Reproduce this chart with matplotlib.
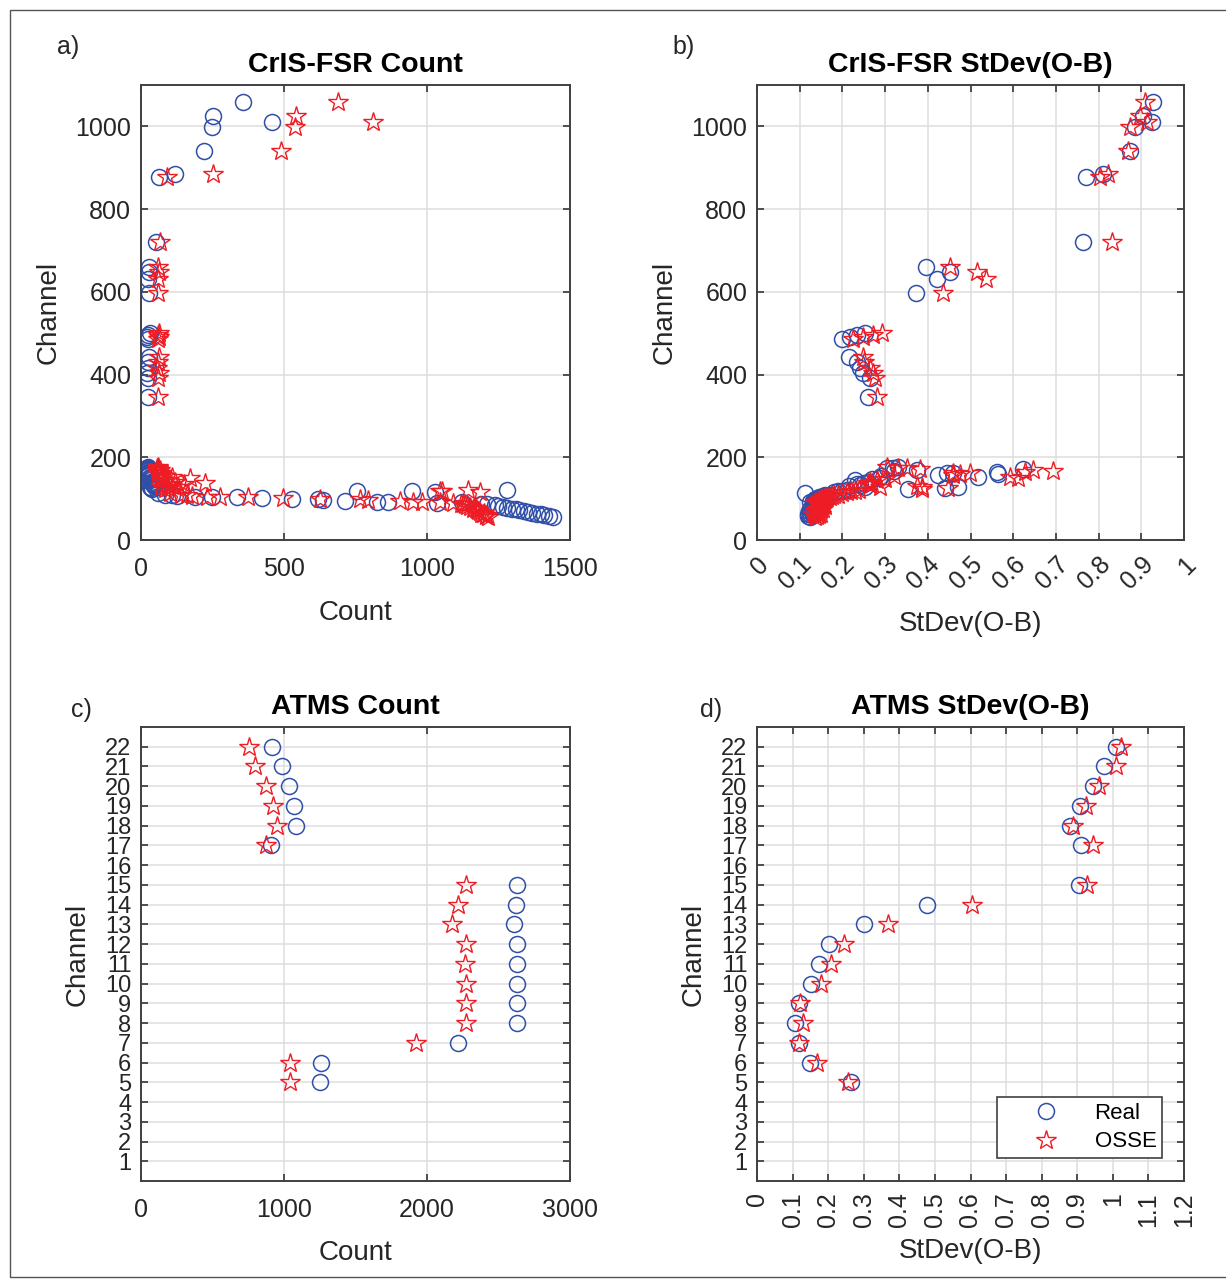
import numpy as np
import matplotlib.pyplot as plt
from matplotlib.patches import Rectangle
from matplotlib.transforms import ScaledTranslation

plt.rcParams['font.family'] = ['Liberation Sans', 'DejaVu Sans']

# CrIS-FSR channel statistics (Real vs OSSE)
cris_ch = [56, 58, 60, 62, 64, 66, 68, 70, 72, 74, 76, 78, 80, 82, 84, 86, 88,
           90, 91, 92, 93, 94, 96, 98, 100, 101, 103, 104, 105, 106, 108, 110,
           113, 116, 118, 119, 120,
           123, 125, 127, 129, 131, 133, 136, 138, 141, 144, 147, 150, 152,
           154, 157, 159, 161, 163, 165, 167, 169, 171, 173, 175, 177,
           345, 391, 403, 415, 430, 442, 486, 490, 495, 500,
           597, 630, 647, 660, 720,
           877, 884, 940, 998, 1010, 1024, 1058]
cris_cnt_real = [1440, 1425, 1410, 1398, 1385, 1368, 1352, 1340, 1322, 1310, 1296, 1281, 1265, 1250, 1238, 1209, 1190,
                 1035, 1122, 864, 825, 713, 635, 619, 527, 422, 335, 248, 189, 126, 84, 110,
                 60, 1028, 947, 755, 1279,
                 40, 35, 30, 55, 45, 50, 42, 38, 35, 30, 28, 30, 32,
                 26, 25, 24, 28, 25, 24, 22, 26, 24, 22, 25, 23,
                 24, 26, 22, 25, 24, 28, 24, 22, 26, 30,
                 28, 26, 28, 27, 52,
                 63, 120, 220, 248, 458, 252, 357]
cris_cnt_osse = [1212, 1205, 1208, 1196, 1190, 1198, 1185, 1180, 1176, 1170, 1162, 1165, 1150, 1140, 1132, 1125, 1118,
                 1091, 1045, 983, 951, 906, 794, 766, 626, 497, 374, 276, 230, 180, 140, 160,
                 100, 1185, 1045, 1052, 1143,
                 85, 95, 70, 130, 110, 100, 150, 224, 120, 90, 70, 171, 110,
                 80, 75, 60, 70, 65, 60, 55, 65, 60, 55, 60, 58,
                 60, 58, 62, 57, 60, 62, 58, 62, 60, 64,
                 60, 58, 62, 58, 66,
                 91, 252, 490, 539, 811, 542, 689]
cris_sd_real = [0.125, 0.120, 0.130, 0.125, 0.120, 0.130, 0.128, 0.122, 0.130, 0.135, 0.125, 0.130, 0.140, 0.135, 0.130, 0.140, 0.135,
                0.130, 0.125, 0.130, 0.135, 0.130, 0.140, 0.135, 0.140, 0.145, 0.150, 0.145, 0.150, 0.155, 0.160, 0.170,
                0.112, 0.180, 0.190, 0.200, 0.210,
                0.353, 0.440, 0.471, 0.253, 0.215, 0.241, 0.235, 0.250, 0.260, 0.229, 0.270, 0.285, 0.518,
                0.290, 0.424, 0.565, 0.445, 0.460, 0.562, 0.320, 0.374, 0.623, 0.304, 0.319, 0.330,
                0.260, 0.265, 0.248, 0.241, 0.234, 0.216, 0.200, 0.218, 0.235, 0.253,
                0.372, 0.421, 0.452, 0.396, 0.763,
                0.770, 0.811, 0.874, 0.885, 0.925, 0.904, 0.927]
cris_sd_osse = [0.135, 0.140, 0.145, 0.130, 0.150, 0.140, 0.145, 0.135, 0.150, 0.140, 0.155, 0.145, 0.150, 0.160, 0.145, 0.155, 0.150,
                0.140, 0.135, 0.145, 0.140, 0.150, 0.145, 0.155, 0.150, 0.160, 0.165, 0.170, 0.160, 0.175, 0.180, 0.190,
                0.200, 0.210, 0.220, 0.230, 0.240,
                0.386, 0.447, 0.386, 0.288, 0.374, 0.265, 0.270, 0.260, 0.265, 0.280, 0.300, 0.611, 0.592,
                0.320, 0.460, 0.475, 0.499, 0.460, 0.627, 0.694, 0.646, 0.382, 0.330, 0.351, 0.304,
                0.281, 0.276, 0.272, 0.265, 0.250, 0.248, 0.225, 0.248, 0.272, 0.293,
                0.436, 0.536, 0.515, 0.452, 0.831,
                0.803, 0.822, 0.869, 0.874, 0.913, 0.897, 0.909]

# ATMS channel statistics
atms_ch = [5, 6, 7, 8, 9, 10, 11, 12, 13, 14, 15, 17, 18, 19, 20, 21, 22]
atms_cnt_real = [1254, 1259, 2219, 2629, 2629, 2629, 2629, 2629, 2611, 2622, 2629, 909, 1082, 1068, 1033, 988, 918]
atms_cnt_osse = [1040, 1044, 1923, 2273, 2273, 2273, 2268, 2273, 2172, 2219, 2273, 872, 953, 921, 874, 795, 755]
atms_sd_real = [0.264, 0.149, 0.118, 0.108, 0.118, 0.152, 0.175, 0.203, 0.302, 0.479, 0.905,
                0.910, 0.879, 0.909, 0.943, 0.975, 1.010]
atms_sd_osse = [0.257, 0.169, 0.119, 0.130, 0.120, 0.181, 0.207, 0.244, 0.369, 0.605, 0.926,
                0.945, 0.889, 0.924, 0.962, 1.010, 1.024]

W, H = 1226, 1281
blue = '#2f4fa8'
red = '#ee1c25'
axcol = '#262626'

fig = plt.figure(figsize=(W / 100, H / 100), dpi=100)
fig.patches.append(Rectangle((10 / W, 4 / H), 1.2, 1 - 14 / H, transform=fig.transFigure,
                             fill=False, edgecolor='#555555', linewidth=1.0))


def make_axes(left, top, right, bottom):
    return fig.add_axes([left / W, 1 - bottom / H, (right - left) / W, (bottom - top) / H])


def draw(ax, xr, xo, y, title, xlabel, xpad=11):
    ax.plot(xr, y, linestyle='none', marker='o', ms=11.5, mfc='none', mec=blue, mew=1.1, label='Real')
    ax.plot(xo, y, linestyle='none', marker='*', ms=15, mfc='none', mec=red, mew=1.0, label='OSSE')
    ax.set_title(title, fontsize=20.5, fontweight='bold', pad=9, color='black')
    ax.set_xlabel(xlabel, fontsize=20, color=axcol, labelpad=xpad)
    ax.set_ylabel('Channel', fontsize=20, color=axcol, labelpad=10)
    ax.grid(True, color='#dedede', linewidth=1.1)
    ax.set_axisbelow(True)
    ax.tick_params(direction='in', top=True, right=True, length=5, width=1.1,
                   labelsize=18, colors=axcol)
    ax.tick_params(axis='x', pad=12)
    ax.tick_params(axis='y', pad=7)
    for s in ax.spines.values():
        s.set_color('#404040')
        s.set_linewidth(1.4)


# a) CrIS-FSR Count
ax1 = make_axes(141, 85, 570, 540)
draw(ax1, cris_cnt_real, cris_cnt_osse, cris_ch, 'CrIS-FSR Count', 'Count', xpad=14)
ax1.set_xlim(0, 1500)
ax1.set_ylim(0, 1100)
ax1.set_xticks([0, 500, 1000, 1500])
ax1.set_yticks([0, 200, 400, 600, 800, 1000])

# b) CrIS-FSR StDev
ax2 = make_axes(757, 85, 1184, 540)
draw(ax2, cris_sd_real, cris_sd_osse, cris_ch, 'CrIS-FSR StDev(O-B)', 'StDev(O-B)', xpad=12)
ax2.set_xlim(0, 1)
ax2.set_ylim(0, 1100)
ax2.set_yticks([0, 200, 400, 600, 800, 1000])
ax2.set_xticks(np.arange(0, 11) / 10)
ax2.set_xticklabels(['0'] + ['0.%d' % i for i in range(1, 10)] + ['1'])
ax2.tick_params(axis='x', pad=15)
for lbl in ax2.get_xticklabels():
    lbl.set_rotation(45)
    lbl.set_ha('right')
    lbl.set_va('center')
    lbl.set_rotation_mode('anchor')
    lbl.set_transform(lbl.get_transform() + ScaledTranslation(6 / 72, 0, fig.dpi_scale_trans))

# c) ATMS Count
ax3 = make_axes(141, 727, 570, 1181)
draw(ax3, atms_cnt_real, atms_cnt_osse, atms_ch, 'ATMS Count', 'Count', xpad=13)
ax3.set_xlim(0, 3000)
ax3.set_ylim(0, 23)
ax3.set_xticks([0, 1000, 2000, 3000])
ax3.set_yticks(range(1, 23))
ax3.tick_params(axis='y', labelsize=17)

# d) ATMS StDev
ax4 = make_axes(757, 727, 1184, 1181)
draw(ax4, atms_sd_real, atms_sd_osse, atms_ch, 'ATMS StDev(O-B)', 'StDev(O-B)', xpad=8)
ax4.set_xlim(0, 1.2)
ax4.set_ylim(0, 23)
ax4.set_yticks(range(1, 23))
ax4.tick_params(axis='y', labelsize=17)
ax4.set_xticks(np.arange(0, 13) / 10)
ax4.set_xticklabels(['0'] + ['0.%d' % i for i in range(1, 10)] + ['1', '1.1', '1.2'])
ax4.tick_params(axis='x', pad=8, labelrotation=90)
leg = ax4.legend(loc='lower right', bbox_to_anchor=(0.9485, 0.0507), borderaxespad=0,
                 fontsize=16, numpoints=1, handlelength=3.9, handletextpad=0.25,
                 borderpad=0.25, labelspacing=0.35, fancybox=False, framealpha=1)
leg.get_frame().set_edgecolor('#404040')
leg.get_frame().set_linewidth(1.2)

for txt, x, y in [('a)', 57, 47), ('b)', 672, 47), ('c)', 71, 710), ('d)', 700, 710)]:
    fig.text(x / W, 1 - y / H, txt, fontsize=18, color=axcol, va='center', ha='left')

fig.savefig('out.png', dpi=100, facecolor='white')
